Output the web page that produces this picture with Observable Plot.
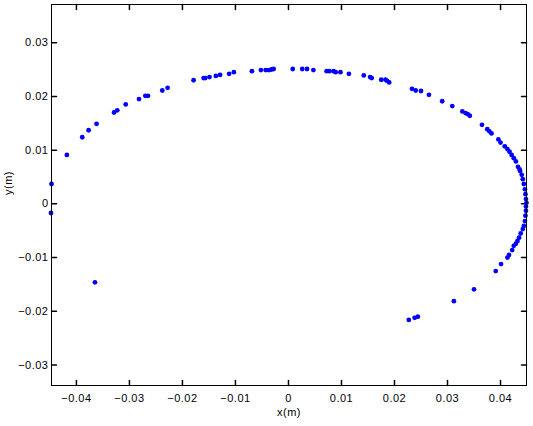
<!DOCTYPE html>
<html>
<head>
<meta charset="utf-8">
<script src="https://cdn.jsdelivr.net/npm/d3@7"></script>
<script src="https://cdn.jsdelivr.net/npm/@observablehq/plot@0.6"></script>
<style>
  html, body { margin: 0; padding: 0; background: #fff; }
  #chart svg { display: block; }
  #chart svg text { letter-spacing: 0.5px; }
</style>
</head>
<body>
<div id="chart"></div>
<script>
const xs = [
  -0.0447, -0.0448, -0.0418, -0.0389, -0.0377, -0.0362, -0.0329, -0.0323, -0.0307, -0.0282,
  -0.0270, -0.0265, -0.0238, -0.0228, -0.0179, -0.0160, -0.0157, -0.0149, -0.0137, -0.0129,
  -0.0112, -0.0103, -0.0069, -0.0052, -0.0043, -0.0037, -0.0032, -0.0028, 0.0008, 0.0026,
  0.0035, 0.0047, 0.0072, 0.0077, 0.0085, 0.0089, 0.0098, 0.0114, 0.0142, 0.0154,
  0.0157, 0.0175, 0.0183, 0.0186, 0.0190, 0.0233, 0.0240, 0.0250, 0.0265, 0.0290,
  0.0309, 0.0328, 0.0334, 0.0338, 0.0342, 0.0365, 0.0375, 0.0379, 0.0383, 0.0396,
  0.0400, 0.0408, 0.0413, 0.0417, 0.0421, 0.0425, 0.0429, 0.0433, 0.0436, 0.0437,
  0.0440, 0.0442, 0.0444, 0.0446, 0.0447, 0.0448, 0.0449, 0.0448, 0.0448, 0.0447,
  0.0446, 0.0444, 0.0442, 0.0438, 0.0435, 0.0432, 0.0429, 0.0425, 0.0422, 0.0416,
  0.0413, 0.0401, 0.0391, 0.0350, 0.0312, 0.0244, 0.0238, 0.0227, -0.0365
];
const ys = [
  0.0037, -0.0017, 0.0091, 0.0124, 0.0137, 0.0149, 0.0170, 0.0174, 0.0185, 0.0195,
  0.0201, 0.0201, 0.0211, 0.0216, 0.0230, 0.0234, 0.0234, 0.0236, 0.0238, 0.0240,
  0.0242, 0.0245, 0.0247, 0.0249, 0.0249, 0.0249, 0.0250, 0.0251, 0.0251, 0.0251,
  0.0251, 0.0249, 0.0247, 0.0247, 0.0247, 0.0245, 0.0245, 0.0242, 0.0239, 0.0236,
  0.0234, 0.0231, 0.0231, 0.0229, 0.0226, 0.0214, 0.0211, 0.0210, 0.0203, 0.0191,
  0.0182, 0.0172, 0.0169, 0.0167, 0.0164, 0.0147, 0.0139, 0.0135, 0.0131, 0.0120,
  0.0114, 0.0107, 0.0102, 0.0097, 0.0091, 0.0085, 0.0079, 0.0069, 0.0064, 0.0061,
  0.0054, 0.0046, 0.0037, 0.0027, 0.0018, 0.0009, 0.0002, -0.0005, -0.0013, -0.0022,
  -0.0032, -0.0041, -0.0047, -0.0055, -0.0063, -0.0069, -0.0074, -0.0078, -0.0086, -0.0095,
  -0.0100, -0.0112, -0.0125, -0.0159, -0.0181, -0.0210, -0.0212, -0.0216, -0.0146
];
const xTicks = [-0.04, -0.03, -0.02, -0.01, 0, 0.01, 0.02, 0.03, 0.04];
const yTicks = [-0.03, -0.02, -0.01, 0, 0.01, 0.02, 0.03];
const xLabel = "x(m)";
const yLabel = "y(m)";

const points = xs.map((x, i) => ({x, y: ys[i]}));
const fmt = d => d === 0 ? "0" : d.toFixed(2).replace("-", "\u2212");
const tickShape = {draw(ctx, l) { ctx.moveTo(0, 0); ctx.lineTo(0, -l); }};
const tickLen = 5;

const chart = Plot.plot({
  width: 533,
  height: 426,
  marginLeft: 51,
  marginRight: 7,
  marginTop: 4,
  marginBottom: 41,
  style: {fontFamily: "'Liberation Sans', Arial, sans-serif", fontSize: "11px", background: "#fff", color: "#000"},
  x: {domain: [-0.0447, 0.0449], ticks: xTicks},
  y: {domain: [-0.0338, 0.0371], ticks: yTicks},
  marks: [
    Plot.axisX({anchor: "bottom", ticks: xTicks, tickSize: 0, tickPadding: 9, tickFormat: fmt,
      label: null, fontSize: 11, fill: "#000"}),
    Plot.axisY({anchor: "left", ticks: yTicks, tickSize: 0, tickPadding: 3, tickFormat: fmt,
      label: null, fontSize: 11, fill: "#000"}),
    Plot.text([xLabel], {text: d => d, frameAnchor: "bottom", dy: 30, fontSize: 11, fill: "#000"}),
    Plot.text([yLabel], {text: d => d, frameAnchor: "left", dx: -43, rotate: -90, fontSize: 11, fill: "#000"}),
    Plot.vector(xTicks, {x: d => d, frameAnchor: "bottom", length: tickLen, rotate: 0, anchor: "start", shape: tickShape, stroke: "#000"}),
    Plot.vector(xTicks, {x: d => d, frameAnchor: "top", length: tickLen, rotate: 180, anchor: "start", shape: tickShape, stroke: "#000"}),
    Plot.vector(yTicks, {y: d => d, frameAnchor: "left", length: tickLen, rotate: 90, anchor: "start", shape: tickShape, stroke: "#000"}),
    Plot.vector(yTicks, {y: d => d, frameAnchor: "right", length: tickLen, rotate: -90, anchor: "start", shape: tickShape, stroke: "#000"}),
    Plot.dot(points, {x: "x", y: "y", r: 2.4, fill: "#0000ff", stroke: "none"}),
    Plot.frame({stroke: "#000", strokeWidth: 1})
  ]
});
document.getElementById("chart").appendChild(chart);
</script>
</body>
</html>
